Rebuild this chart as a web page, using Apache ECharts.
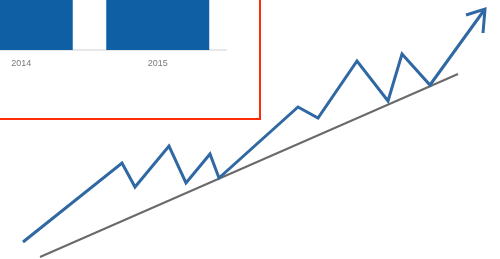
<!DOCTYPE html>
<html>
<head>
<meta charset="utf-8">
<script src="https://cdn.jsdelivr.net/npm/echarts@6/dist/echarts.min.js"></script>
<style>html,body{margin:0;padding:0;background:#fff;}#c{width:500px;height:259px;}</style>
</head>
<body>
<div id="c"></div>
<script>
// Bar chart inset
var barCategories = ['2014', '2015'];
var barValues = [90, 90];

// Trend illustration (x, y in illustration units, y grows downward)
var zigzagX = [23, 122, 135, 169, 186, 210, 219, 298, 318, 357, 388, 402, 430, 485];
var zigzagY = [242, 163, 187, 146, 183, 154, 178, 107, 118, 61, 101, 54, 85, 9];
var arrowHeadX = [466, 485, 483];
var arrowHeadY = [15, 9, 33];
var supportX = [40, 458];
var supportY = [257, 74];

function pairs(xs, ys) { return xs.map(function (x, i) { return [x, ys[i]]; }); }

var chart = echarts.init(document.getElementById('c'), null, { renderer: 'canvas' });
chart.setOption({
  animation: false,
  backgroundColor: '#ffffff',
  grid: [
    { left: -47, width: 273, top: -100, height: 150, containLabel: false, outerBoundsMode: 'none' },
    { left: 0, top: 0, width: 500, height: 259, containLabel: false, outerBoundsMode: 'none' }
  ],
  xAxis: [
    {
      gridIndex: 0, type: 'category', data: barCategories,
      axisLine: { show: true, lineStyle: { color: '#e8e8e8', width: 2 } },
      axisTick: { show: false },
      axisLabel: { color: '#7a7a7a', fontSize: 9, fontFamily: 'Liberation Sans', margin: 9 }
    },
    { gridIndex: 1, type: 'value', min: 0, max: 500, show: false }
  ],
  yAxis: [
    { gridIndex: 0, type: 'value', min: 0, max: 100, show: false },
    { gridIndex: 1, type: 'value', min: 0, max: 259, inverse: true, show: false }
  ],
  graphic: [
    {
      type: 'rect', z: 1,
      shape: { x: -10, y: -10, width: 270, height: 129 },
      style: { fill: 'none', stroke: '#ff2a0a', lineWidth: 2 }
    }
  ],
  series: [
    {
      type: 'bar', xAxisIndex: 0, yAxisIndex: 0, data: barValues,
      barWidth: 103, itemStyle: { color: '#0f5fa4' }
    },
    {
      type: 'line', xAxisIndex: 1, yAxisIndex: 1, data: pairs(supportX, supportY),
      symbol: 'none', lineStyle: { color: '#6a6a6a', width: 2 }
    },
    {
      type: 'line', xAxisIndex: 1, yAxisIndex: 1, data: pairs(zigzagX, zigzagY),
      symbol: 'none', lineStyle: { color: '#2f68a3', width: 3, join: 'miter' }
    },
    {
      type: 'line', xAxisIndex: 1, yAxisIndex: 1, data: pairs(arrowHeadX, arrowHeadY),
      symbol: 'none', lineStyle: { color: '#2f68a3', width: 3, join: 'miter' }
    }
  ]
});
</script>
</body>
</html>
